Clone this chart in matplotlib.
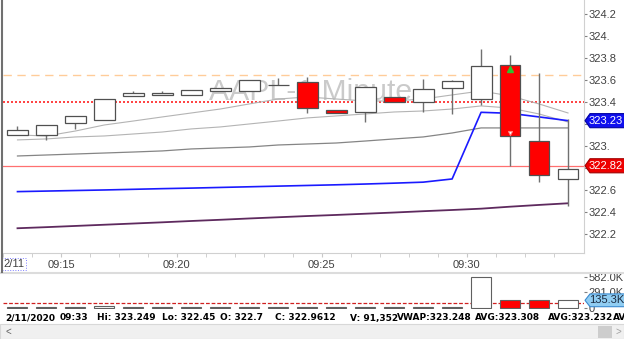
import matplotlib.pyplot as plt
from matplotlib.patches import Rectangle, Polygon
from matplotlib.transforms import blended_transform_factory

# AAPL 1-minute bars, 2/11/2020 09:14 .. 09:33
bar_open  = [323.10, 323.097, 323.206, 323.234, 323.452, 323.461, 323.461, 323.503, 323.503, 323.558,
             323.582, 323.327, 323.306, 323.443, 323.40, 323.524, 323.425, 323.734, 323.045, 322.70]
bar_high  = [323.18, 323.188, 323.273, 323.43, 323.497, 323.503, 323.506, 323.524, 323.597, 323.62,
             323.63, 323.327, 323.533, 323.443, 323.609, 323.60, 323.882, 323.825, 323.661, 323.249]
bar_low   = [323.10, 323.055, 323.157, 323.234, 323.452, 323.461, 323.461, 323.503, 323.503, 323.558,
             323.303, 323.297, 323.221, 323.397, 323.312, 323.291, 323.37, 322.82, 322.676, 322.45]
bar_close = [323.145, 323.188, 323.273, 323.43, 323.482, 323.485, 323.506, 323.524, 323.597, 323.558,
             323.348, 323.297, 323.533, 323.397, 323.515, 323.594, 323.725, 323.091, 322.733, 322.79]
volume_k  = [16, 14, 18, 20, 12, 10, 14, 10, 16, 9, 18, 12, 15, 10, 14, 16, 582, 140, 140, 135.3]

blue_line   = [322.585, 322.59, 322.595, 322.60, 322.606, 322.612, 322.617, 322.623, 322.629, 322.635,
               322.641, 322.647, 322.654, 322.662, 322.671, 322.70, 323.306, 323.297, 323.264, 323.23]
purple_line = [322.252, 322.262, 322.273, 322.284, 322.295, 322.306, 322.318, 322.329, 322.341, 322.352,
               322.363, 322.373, 322.384, 322.395, 322.407, 322.418, 322.43, 322.448, 322.464, 322.479]
gray_fast = [323.1, 323.091, 323.136, 323.191, 323.227, 323.264, 323.3, 323.336, 323.382, 323.427,
             323.445, 323.427, 323.409, 323.409, 323.427, 323.464, 323.5, 323.455, 323.382, 323.3]
gray_mid  = [323.055, 323.064, 323.082, 323.091, 323.109, 323.127, 323.155, 323.173, 323.2, 323.227,
             323.255, 323.273, 323.291, 323.309, 323.318, 323.336, 323.364, 323.345, 323.291, 323.218]
gray_slow = [322.909, 322.918, 322.927, 322.936, 322.945, 322.955, 322.973, 322.982, 322.991, 323.009,
             323.018, 323.027, 323.045, 323.064, 323.082, 323.118, 323.164, 323.164, 323.164, 323.164]

orange_level = 323.643
red_dotted_level = 323.40
last_price = 322.82
avg_volume_k = 88

time_labels = ['09:15', '09:20', '09:25', '09:30']
time_label_pos = [1.5, 5.5, 10.5, 15.5]
price_ticks = [322.2, 322.4, 322.6, 322.8, 323.0, 323.2, 323.4, 323.6, 323.8, 324.0, 324.2]
price_tick_labels = ['322.2', '322.4', '322.6', '', '323.', '', '323.4', '323.6', '323.8', '324.', '324.2']
info_parts = [('2/11/2020', 5), ('09:33', 60), ('Hi: 323.249', 97), ('Lo: 322.45', 162),
              ('O: 322.7', 220), ('C: 322.9612', 275), ('V: 91,352', 350), ('VWAP:323.248', 397),
              ('AVG:323.308', 475), ('AVG:323.232', 548), ('AV', 613)]

W, H = 624, 339
fig = plt.figure(figsize=(W / 100, H / 100), dpi=100)
fig.patch.set_facecolor('white')
FONT = 'Liberation Sans'

def rect(l, t, r, b):
    return [l / W, 1 - b / H, (r - l) / W, (b - t) / H]

ax = fig.add_axes(rect(3, 0, 584, 253))
axv = fig.add_axes(rect(3, 273, 584, 309))
n = len(bar_open)
xs = list(range(n))
bw = 0.72

# watermark
ax.text(0.53, 0.605, 'AAPL-1 Minute', transform=ax.transAxes, ha='center', va='baseline',
        fontsize=21.7, color='#cacaca', family=FONT, zorder=0)

ax.axhline(orange_level, color='#ffcc99', lw=1, dashes=(6, 4), zorder=1)
ax.axhline(red_dotted_level, color='#ff2020', lw=1.2, dashes=(1.2, 1.2), zorder=1)
ax.axhline(last_price, color='#ff7070', lw=0.9, zorder=1)

ax.plot(xs, gray_fast, color='#b4b4b4', lw=0.8, zorder=2)
ax.plot(xs, gray_mid, color='#b4b4b4', lw=0.8, zorder=2)
ax.plot(xs, gray_slow, color='#858585', lw=0.9, zorder=2)
ax.plot(xs, blue_line, color='#1a1aff', lw=1.2, zorder=2)
ax.plot(xs, purple_line, color='#5e2a5e', lw=1.3, zorder=2)

for i in xs:
    o, h, l, c = bar_open[i], bar_high[i], bar_low[i], bar_close[i]
    ax.vlines(i, l, h, color='#707070', lw=1, zorder=3)
    face = 'white' if c >= o else '#ff0000'
    ax.add_patch(Rectangle((i - bw / 2, min(o, c)), bw, abs(c - o), facecolor=face,
                           edgecolor='#505050', lw=0.9, zorder=4))

ax.plot([17], [323.70], marker='^', ms=4, color='#30c030', zorder=5)
ax.plot([17], [323.115], marker='v', ms=3, mfc='white', mec='#ff8080', mew=0.7, zorder=5)

ax.set_xlim(-0.483, 19.552)
ax.set_ylim(322.027, 324.327)
ax.set_yticks(price_ticks)
ax.set_yticklabels(price_tick_labels)
ax.yaxis.tick_right()
ax.tick_params(axis='y', direction='out', length=2, pad=1, labelsize=8, labelcolor='#404040',
               color='#808080')
ax.set_xticks(time_label_pos)
ax.set_xticklabels(time_labels)
ax.set_xticks([i - 0.5 for i in xs], minor=True)
ax.tick_params(axis='x', which='both', direction='out', length=3, pad=2, labelsize=8,
               labelcolor='#404040', color='#c8c8c8')
for lab in ax.get_xticklabels() + ax.get_yticklabels():
    lab.set_family(FONT)
for s in ['top', 'left']:
    ax.spines[s].set_visible(False)
for s in ['right', 'bottom']:
    ax.spines[s].set_color('#d0d0d0')

ax.text(0.019, -0.043, '2/11', transform=ax.transAxes, ha='center', va='center', fontsize=8,
        color='#404040', family=FONT,
        bbox=dict(boxstyle='square,pad=0.1', fc='none', ec='#8080ff', lw=0.7, ls=':'))

def badge(a, y, text, half_h, face, edge, tcolor, axis_w=581):
    tr = blended_transform_factory(a.transAxes, a.transData)
    x0 = 1 + 1 / axis_w
    x1 = 1 + 6 / axis_w
    x2 = 1 + 45 / axis_w
    a.add_patch(Polygon([(x0, y), (x1, y + half_h), (x2, y + half_h), (x2, y - half_h), (x1, y - half_h)],
                        closed=True, transform=tr, facecolor=face, edgecolor=edge, lw=0.8,
                        clip_on=False, zorder=10))
    a.text(1 + 5 / axis_w, y, text, transform=tr, ha='left', va='center', fontsize=8, color=tcolor,
           family=FONT, clip_on=False, zorder=11)

badge(ax, blue_line[-1], '%.2f' % blue_line[-1], 0.064, '#1010ee', '#0000a0', 'white')
badge(ax, last_price, '%.2f' % last_price, 0.064, '#ee0000', '#a00000', 'white')

# volume panel
vcols = ['white' if bar_close[i] >= bar_open[i] else '#ff0000' for i in xs]
axv.bar(xs, volume_k, width=bw, color=vcols, edgecolor='#606060', lw=0.8, zorder=3)
axv.axhline(avg_volume_k, color='#d02020', lw=0.9, dashes=(3, 1.5), zorder=2)
axv.set_xlim(-0.483, 19.552)
axv.set_ylim(-28, 648)
axv.set_yticks([0, 291, 582])
axv.set_yticklabels(['0', '291.0K', '582.0K'])
axv.yaxis.tick_right()
axv.tick_params(axis='y', direction='out', length=2, pad=1, labelsize=8, labelcolor='#404040',
                color='#808080')
axv.set_xticks([])
for lab in axv.get_yticklabels():
    lab.set_family(FONT)
for s in axv.spines.values():
    s.set_visible(False)
badge(axv, volume_k[-1], '%.1fK' % volume_k[-1], 120, '#90cdf2', '#3a8ad0', '#1a2a40')

# window furniture
fig.add_artist(plt.Line2D([0, 1], [1 - 273 / H] * 2, color='#dcdcdc', lw=1.5))
fig.add_artist(plt.Line2D([1.5 / W] * 2, [1, 1 - 272 / H], color='#707070', lw=1.5))
for txt, px in info_parts:
    fig.text(px / W, 1 - 318 / H, txt, ha='left', va='center', fontsize=6.5, fontweight='bold',
             color='black', family='DejaVu Sans')
fig.add_artist(Rectangle((0, 0), 1, 15 / H, transform=fig.transFigure, facecolor='#f0f0f0',
                         edgecolor='#d8d8d8', lw=0.8))
fig.add_artist(Rectangle((598 / W, 1 / H), 14 / W, 12 / H, transform=fig.transFigure,
                         facecolor='#cdcdcd', edgecolor='none'))
fig.text(8 / W, 7.5 / H, '<', ha='center', va='center', fontsize=7, color='#606060', family=FONT)
fig.text(618 / W, 7.5 / H, '>', ha='center', va='center', fontsize=7, color='#a0a0a0', family=FONT)

fig.savefig('out.png', dpi=100)
